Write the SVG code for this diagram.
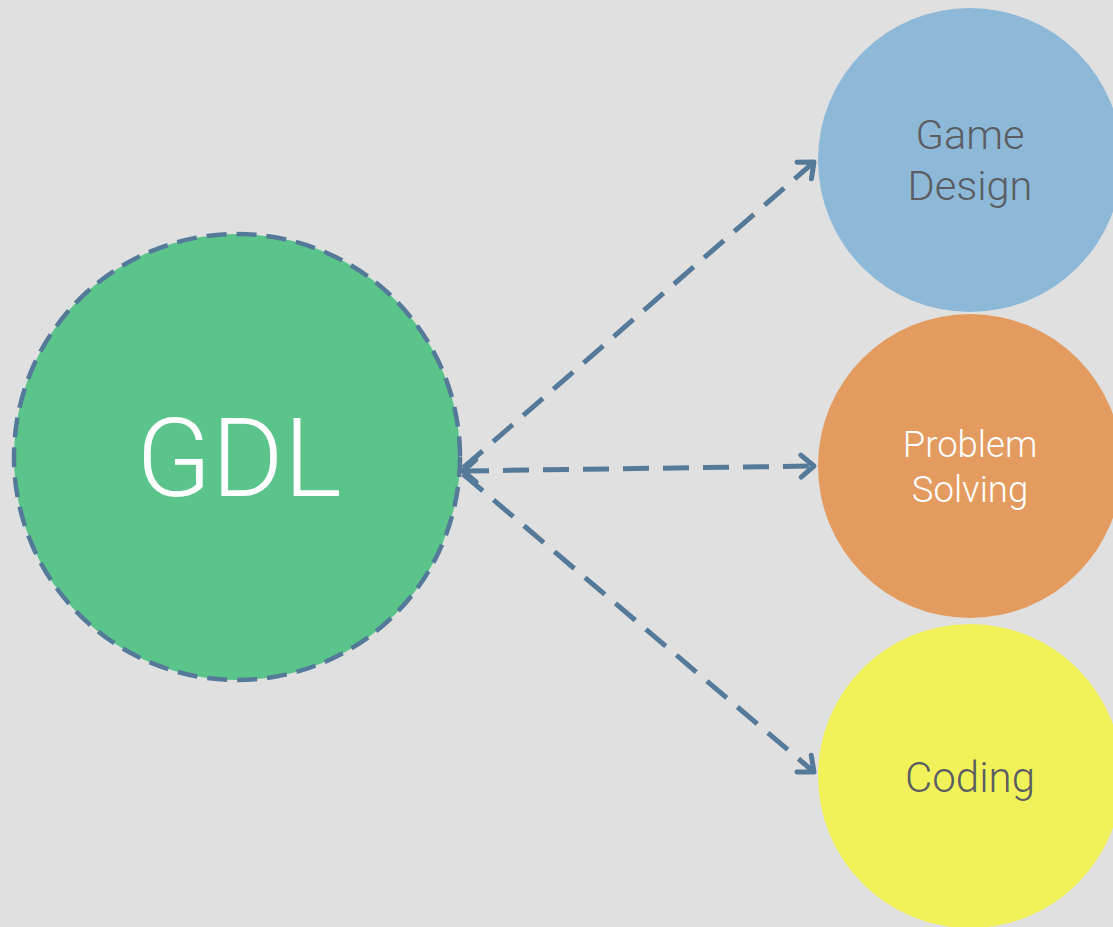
<svg xmlns="http://www.w3.org/2000/svg" width="1113" height="927" viewBox="0 0 1113 927">
<defs>
<style>
.conn{stroke:#557a99;stroke-width:5;fill:none;stroke-dasharray:26 14}
.lbl{font-family:Roboto,"Liberation Sans",sans-serif;font-weight:300;text-anchor:middle}
</style>
<marker id="ah" markerUnits="userSpaceOnUse" viewBox="-20 -16 24 32" markerWidth="24" markerHeight="32" refX="0" refY="0" orient="auto-start-reverse">
<path d="M-13,-11 L0,0 L-13,11" fill="none" stroke="#557a99" stroke-width="5" stroke-linecap="round" stroke-linejoin="round"/>
</marker>
</defs>
<rect width="1113" height="927" fill="#e0e0e0"/>
<g id="gdl">
<circle cx="237" cy="457" r="223" fill="#5ac48b" stroke="#557a99" stroke-width="4.5" stroke-dasharray="20 10"/>
<text class="lbl" x="239" y="496" font-size="110" fill="#ffffff">GDL</text>
</g>
<g id="game-design">
<circle cx="970" cy="160" r="152" fill="#8db8d8"/>
<text class="lbl" x="970" y="149" font-size="41.5" fill="#5a5d61">Game</text>
<text class="lbl" x="970" y="200" font-size="41.5" fill="#5a5d61">Design</text>
</g>
<g id="problem-solving">
<circle cx="970" cy="466" r="152" fill="#e39b5f"/>
<text class="lbl" x="970" y="457" font-size="36.5" fill="#ffffff">Problem</text>
<text class="lbl" x="970" y="502" font-size="36.5" fill="#ffffff">Solving</text>
</g>
<g id="coding">
<circle cx="970" cy="776" r="152" fill="#f1f25a"/>
<text class="lbl" x="970" y="792" font-size="42" fill="#5a5d61">Coding</text>
</g>
<g id="connectors">
<path class="conn" d="M463,468 L814,162" marker-end="url(#ah)"/>
<path class="conn" d="M463,471 L814,466" marker-start="url(#ah)" marker-end="url(#ah)"/>
<path class="conn" d="M463,474 L814,772" marker-end="url(#ah)"/>
</g>
</svg>
